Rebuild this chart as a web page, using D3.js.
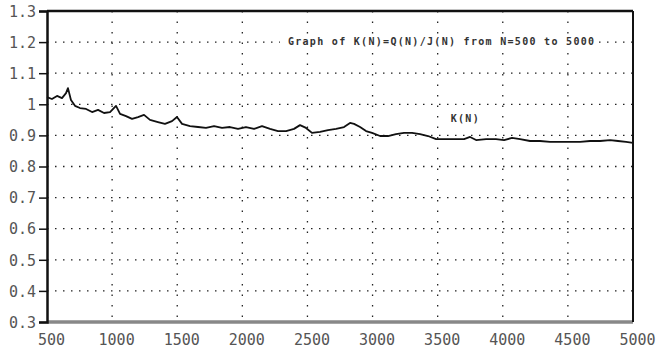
<!DOCTYPE html>
<html>
<head>
<meta charset="utf-8">
<script src="https://cdn.jsdelivr.net/npm/d3@7"></script>
<style>
  body { margin: 0; background: #fff; }
  svg { display: block; }
  .tick-label { font-family: "DejaVu Sans Mono", monospace; font-size: 15px; fill: #555; }
  .note { font-family: "DejaVu Sans Mono", monospace; font-size: 10px; font-weight: bold; fill: #333; }
</style>
</head>
<body>
<svg width="657" height="354"></svg>
<script>
// values
var nValues = [500, 538, 577, 615, 646, 661, 684, 715, 753, 800, 846, 892, 938, 984, 1030, 1061,
  1107, 1153, 1199, 1245, 1291, 1352, 1406, 1460, 1498, 1537, 1598, 1660, 1721, 1783, 1844,
  1905, 1967, 2028, 2090, 2151, 2213, 2274, 2336, 2397, 2443, 2489, 2535, 2597, 2658, 2720,
  2781, 2827, 2858, 2904, 2950, 2996, 3058, 3119, 3180, 3242, 3303, 3365, 3426, 3488, 3564,
  3641, 3703, 3749, 3795, 3872, 3948, 4010, 4071, 4133, 4209, 4286, 4363, 4440, 4517, 4594,
  4670, 4747, 4824, 4885, 4947, 5000];
var kValues = [1.023, 1.017, 1.027, 1.020, 1.036, 1.052, 1.014, 0.995, 0.988, 0.985, 0.975, 0.982,
  0.972, 0.975, 0.995, 0.969, 0.962, 0.953, 0.959, 0.966, 0.950, 0.943, 0.937, 0.946, 0.959,
  0.937, 0.930, 0.927, 0.924, 0.930, 0.924, 0.927, 0.921, 0.927, 0.921, 0.930, 0.921, 0.914,
  0.914, 0.921, 0.933, 0.924, 0.908, 0.911, 0.917, 0.921, 0.927, 0.940, 0.937, 0.927, 0.914,
  0.908, 0.898, 0.898, 0.904, 0.908, 0.908, 0.904, 0.898, 0.888, 0.888, 0.888, 0.888, 0.895,
  0.885, 0.888, 0.888, 0.885, 0.892, 0.888, 0.882, 0.882, 0.879, 0.879, 0.879, 0.879, 0.882,
  0.882, 0.885, 0.882, 0.879, 0.876];
var xTicks = [500, 1000, 1500, 2000, 2500, 3000, 3500, 4000, 4500, 5000];
var yTicks = [0.3, 0.4, 0.5, 0.6, 0.7, 0.8, 0.9, 1, 1.1, 1.2, 1.3];
var titleText = "Graph of K(N)=Q(N)/J(N) from N=500 to 5000";
var seriesLabel = "K(N)";

var svg = d3.select("svg");
var margin = {top: 11, right: 24, bottom: 32, left: 47};
var width = +svg.attr("width") - margin.left - margin.right;
var height = +svg.attr("height") - margin.top - margin.bottom;

var x = d3.scaleLinear().domain([500, 5000]).range([0, width]);
var y = d3.scaleLinear().domain([0.3, 1.3]).range([height, 0]);

var g = svg.append("g")
    .attr("transform", "translate(" + margin.left + "," + margin.top + ")");

// dotted grid
g.selectAll(".hgrid")
    .data(yTicks.slice(1, -1))
    .enter().append("line")
    .attr("x1", 0).attr("x2", width)
    .attr("y1", function(d) { return y(d); })
    .attr("y2", function(d) { return y(d); })
    .style("stroke", "#222")
    .style("stroke-width", 1.3)
    .style("stroke-dasharray", "1.5,6.5");

g.selectAll(".vgrid")
    .data(xTicks.slice(1, -1))
    .enter().append("line")
    .attr("y1", 0).attr("y2", height)
    .attr("x1", function(d) { return x(d); })
    .attr("x2", function(d) { return x(d); })
    .style("stroke", "#222")
    .style("stroke-width", 1.3)
    .style("stroke-dasharray", "1.5,9");

// title and series label sit on white patches over the grid
var title = g.append("text")
    .attr("class", "note")
    .attr("x", x(2350))
    .attr("y", y(1.19))
    .style("letter-spacing", "1.3px")
    .text(titleText);
var tb = title.node().getBBox();
g.insert("rect", ".note")
    .attr("x", tb.x - 8).attr("y", tb.y - 1)
    .attr("width", tb.width + 10).attr("height", tb.height + 2)
    .style("fill", "#fff");

g.append("text")
    .attr("class", "note")
    .attr("x", x(3600))
    .attr("y", y(0.942))
    .style("letter-spacing", "1.3px")
    .text(seriesLabel);

// the K(N) curve
var line = d3.line()
    .x(function(d, i) { return x(nValues[i]); })
    .y(function(d) { return y(d); });

g.append("path")
    .datum(kValues)
    .attr("d", line)
    .style("fill", "none")
    .style("stroke", "#111")
    .style("stroke-width", 1.8)
    .style("stroke-linejoin", "round");

// frame
g.append("line")
    .attr("x1", 0).attr("x2", width).attr("y1", height).attr("y2", height)
    .style("stroke", "#888").style("stroke-width", 3.5);
g.append("line")
    .attr("x1", 0).attr("x2", width).attr("y1", 0).attr("y2", 0)
    .style("stroke", "#111").style("stroke-width", 2.5);
g.append("line")
    .attr("x1", width).attr("x2", width).attr("y1", 0).attr("y2", height)
    .style("stroke", "#111").style("stroke-width", 2);

// left axis
var yAxis = d3.axisLeft(y)
    .tickValues(yTicks)
    .tickSize(8)
    .tickPadding(3)
    .tickFormat(function(d) { return d === 1 ? "1" : d3.format(".1f")(d); });

var ya = g.append("g").call(yAxis);
ya.select(".domain").style("stroke", "#111").style("stroke-width", 2.5);
ya.selectAll(".tick line").style("stroke", "#111").style("stroke-width", 1.5);
ya.selectAll(".tick text").attr("class", "tick-label").attr("dy", "0.35em");

// bottom labels
var xAxis = d3.axisBottom(x)
    .tickValues(xTicks)
    .tickSize(0)
    .tickPadding(12)
    .tickFormat(d3.format("d"));

var xa = g.append("g")
    .attr("transform", "translate(0," + height + ")")
    .call(xAxis);
xa.select(".domain").remove();
xa.selectAll(".tick text").attr("class", "tick-label").attr("dx", 4);
</script>
</body>
</html>
